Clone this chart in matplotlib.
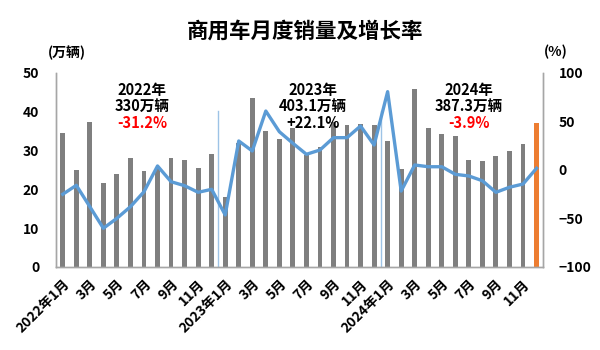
import matplotlib
matplotlib.use("Agg")
import matplotlib.pyplot as plt
import numpy as np

plt.rcParams['font.family'] = ['Noto Sans CJK SC', 'DejaVu Sans']

# ---- data ----
months = ["2022年1月", "2月", "3月", "4月", "5月", "6月", "7月", "8月", "9月", "10月", "11月", "12月",
          "2023年1月", "2月", "3月", "4月", "5月", "6月", "7月", "8月", "9月", "10月", "11月", "12月",
          "2024年1月", "2月", "3月", "4月", "5月", "6月", "7月", "8月", "9月", "10月", "11月", "12月"]
sales = [34.5, 24.9, 37.2, 21.7, 23.9, 28.1, 24.6, 25.6, 27.9, 27.5, 25.4, 29.1,
         18.1, 31.8, 43.4, 35.0, 32.9, 35.7, 28.8, 30.9, 37.2, 36.6, 36.7, 36.4,
         32.5, 25.1, 45.8, 35.7, 34.2, 33.8, 27.4, 27.2, 28.5, 29.9, 31.5, 37.0]
growth = [-25.2, -16.0, -38.0, -60.2, -49.9, -38.0, -22.6, 3.9, -12.3, -16.4, -23.2, -20.1,
          -46.5, 29.6, 19.3, 60.4, 39.1, 27.2, 15.9, 20.3, 33.0, 33.0, 45.0, 25.4,
          80.3, -21.9, 4.9, 3.1, 3.1, -4.7, -6.4, -11.3, -23.2, -18.0, -14.7, 1.5]
left_ticks = [0, 10, 20, 30, 40, 50]
right_ticks = [-100, -50, 0, 50, 100]
year_notes = [("2022年", "330万辆", "-31.2%"),
              ("2023年", "403.1万辆", "+22.1%"),
              ("2024年", "387.3万辆", "-3.9%")]
note_colors = ["#ff0000", "#000000", "#ff0000"]

# ---- figure ----
fig = plt.figure(figsize=(6, 3.5), dpi=100)
ax = fig.add_axes([56/600, 1-267/350, (543.3-56)/600, (267-72.5)/350])
ax2 = ax.twinx()

x = np.arange(len(sales))
colors = ["#7f7f7f"] * (len(sales) - 1) + ["#ed7d31"]
ax.bar(x, sales, width=0.36, color=colors, zorder=2)
ax.set_ylim(0, 50)
ax.set_xlim(-0.5, len(sales) - 0.5)
ax.set_yticks(left_ticks)

# year dividers
for d in [11.5, 23.5]:
    ax.plot([d, d], [0, 40], color="#9dc3e6", lw=1.0, zorder=1)

ax2.plot(x, growth, color="#5b9bd5", lw=2.4, zorder=3)
ax2.set_ylim(-100, 100)
ax2.set_yticks(right_ticks)

# x tick labels: every other month
ax.set_xticks(x[::2])
ax.set_xticklabels(months[::2], rotation=45, ha="right", va="top",
                   rotation_mode="anchor", fontsize=10, fontweight="bold")

for a in (ax, ax2):
    a.tick_params(axis="both", length=0)
    for s in a.spines.values():
        s.set_color("#a6a6a6")
        s.set_linewidth(1.0)
    a.spines["top"].set_visible(False)
ax.tick_params(axis="x", pad=7)
ax.tick_params(axis="y", pad=12, labelsize=10)
ax2.tick_params(axis="y", pad=11, labelsize=10)
for lab in ax.get_yticklabels() + ax2.get_yticklabels():
    lab.set_fontweight("bold")

# annotations
centers = [5.87, 18.5, 30.0]
for (yr, tot, pct), cx, col in zip(year_notes, centers, note_colors):
    ax.text(cx, 45.6, yr, ha="center", va="center", fontsize=10.5, fontweight="bold", zorder=5)
    ax.text(cx, 41.4, tot, ha="center", va="center", fontsize=10.5, fontweight="bold", zorder=5)
    ax.text(cx, 37.0, pct, ha="center", va="center", fontsize=10.5, fontweight="bold",
            color=col, zorder=5)

fig.text(305/600, 1-31.5/350, "商用车月度销量及增长率", ha="center", va="center",
         fontsize=15.5, fontweight="bold")
fig.text(48/600, 1-53/350, "(万辆)", ha="left", va="center", fontsize=10, fontweight="bold")
fig.text(556/600, 1-52/350, "(%)", ha="center", va="center", fontsize=10, fontweight="bold")

fig.savefig("out.png", dpi=100)
